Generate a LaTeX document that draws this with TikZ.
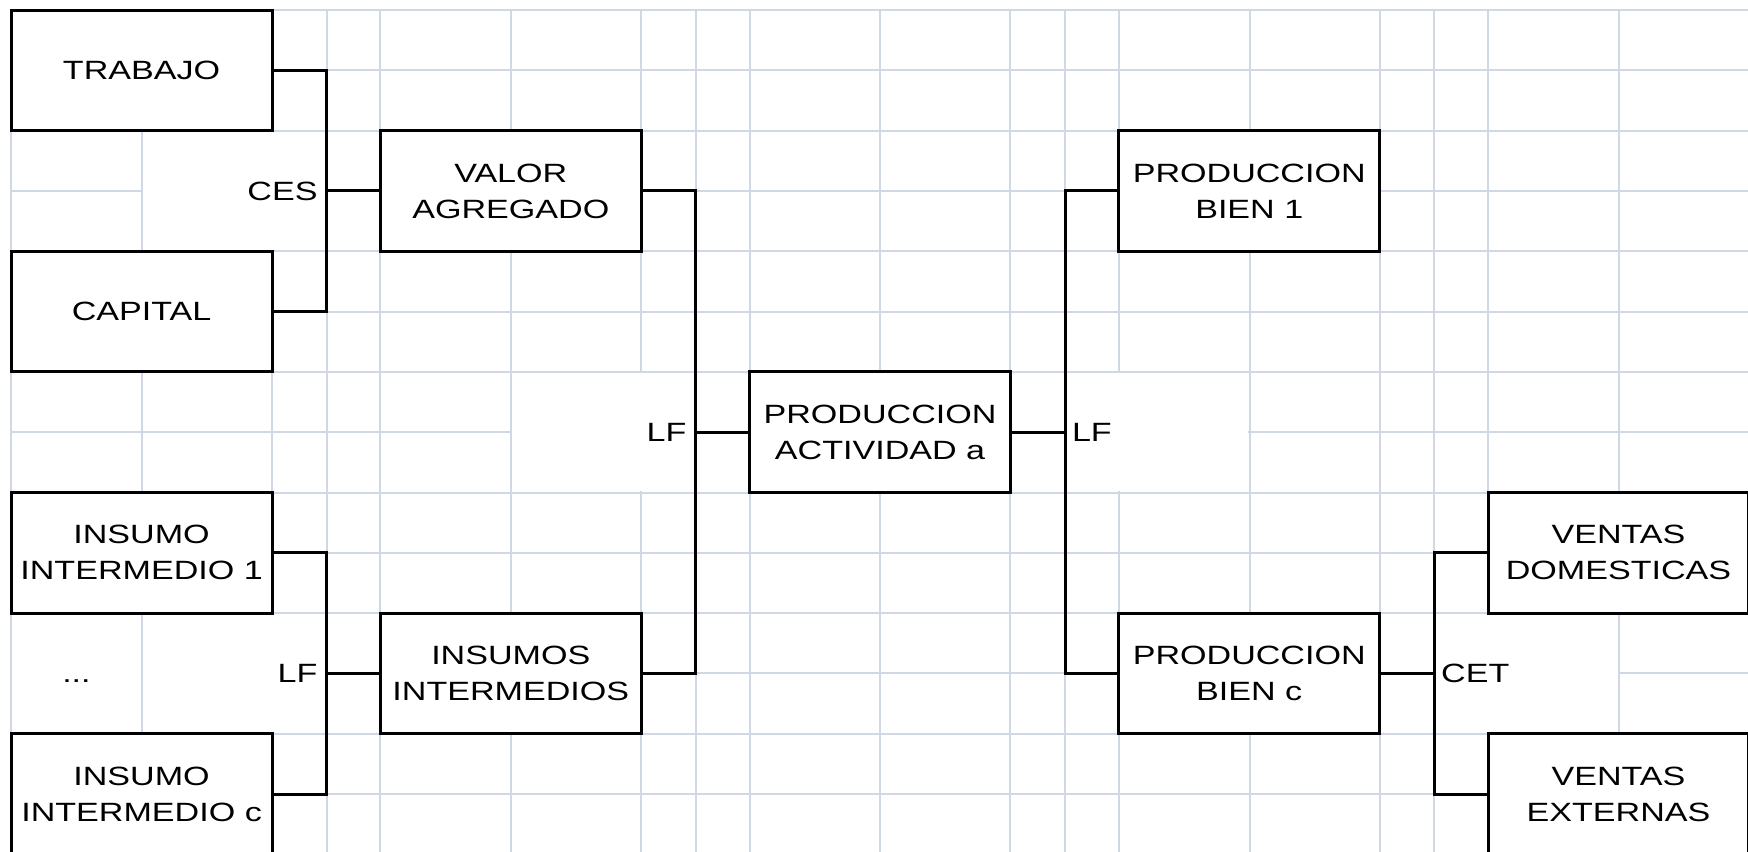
\documentclass[tikz,border=0pt]{standalone}
\usepackage{fontspec}
\setmainfont{Liberation Sans}[FakeStretch=1.29]
\definecolor{gridc}{HTML}{D0D7E5}
\begin{document}
\begin{tikzpicture}[x=1pt, y=-1pt,
  font=\fontsize{23.7}{32.3}\selectfont,
  gridline/.style={draw=gridc, line width=1.8pt},
  box/.style={draw, line width=2.7pt, fill=white, minimum width=234pt,
    minimum height=108.2pt, inner sep=0pt, align=center},
  link/.style={line width=2.7pt},
  lbl/.style={inner sep=0pt}]
\useasboundingbox (0,0) rectangle (1568,763.4);
\clip (0,0) rectangle (1568,763.4);

% worksheet gridlines
\foreach \x in {10,127.3,244,293,341.2,458.5,575.2,624.2,672.4,789.7,906.4,
                955.4,1003.6,1120.9,1237.6,1286.6,1334.8,1452.1,1568.8}
  \draw[gridline] (\x,9) -- (\x,775);
\foreach \y in {9,63.1,117.2,171.3,225.4,279.5,333.6,387.7,441.8,495.9,550,
                604.1,658.2,712.3,766.4}
  \draw[gridline] (10,\y) -- (1575,\y);

% merged label cells hide their inner gridlines
\fill[white] (128.3,118.2) rectangle (292,224.4);
\fill[white] (11,551) rectangle (126.3,657.2);
\fill[white] (128.3,551) rectangle (292,657.2);
\fill[white] (459.5,334.6) rectangle (623.2,440.8);
\fill[white] (956.4,334.6) rectangle (1119.9,440.8);
\fill[white] (1287.6,551) rectangle (1451.1,657.2);

% junction points of the brackets
\coordinate (jces) at (293,171.3);
\coordinate (jlfa) at (624.2,387.7);
\coordinate (jlfi) at (293,604.1);
\coordinate (jlfb) at (955.4,387.7);
\coordinate (jcet) at (1286.6,604.1);

% boxes
\node[box] (trabajo)   at (127,63.1)     {TRABAJO};
\node[box] (capital)   at (127,279.5)    {CAPITAL};
\node[box] (valor)     at (458.2,171.3)  {VALOR\\AGREGADO};
\node[box] (ins1)      at (127,495.9)    {INSUMO\\INTERMEDIO 1};
\node[box] (insc)      at (127,712.3)    {INSUMO\\INTERMEDIO c};
\node[box] (insumos)   at (458.2,604.1)  {INSUMOS\\INTERMEDIOS};
\node[box] (actividad) at (789.4,387.7)  {PRODUCCION\\ACTIVIDAD a};
\node[box] (bien1)     at (1120.6,171.3) {PRODUCCION\\BIEN 1};
\node[box] (bienc)     at (1120.6,604.1) {PRODUCCION\\BIEN c};
\node[box] (dom)       at (1451.8,495.9) {VENTAS\\DOMESTICAS};
\node[box] (ext)       at (1451.8,712.3) {VENTAS\\EXTERNAS};

% brackets
\draw[link] (trabajo.east) -| (jces) |- (capital.east);
\draw[link] (jces) -- (valor.west);
\draw[link] (valor.east) -| (jlfa) |- (insumos.east);
\draw[link] (jlfa) -- (actividad.west);
\draw[link] (ins1.east) -| (jlfi) |- (insc.east);
\draw[link] (jlfi) -- (insumos.west);
\draw[link] (actividad.east) -- (jlfb);
\draw[link] (bien1.west) -| (jlfb) |- (bienc.west);
\draw[link] (bienc.east) -- (jcet);
\draw[link] (dom.west) -| (jcet) |- (ext.west);

% function labels
\node[lbl, anchor=east] (ces)  at (285,171.3)    {CES};
\node[lbl, anchor=east] (lfa)  at (616,387.7)    {LF};
\node[lbl, anchor=east] (lfi)  at (285,604.1)    {LF};
\node[lbl, anchor=west] (lfb)  at (961.4,387.7)  {LF};
\node[lbl, anchor=west] (cet)  at (1292.6,604.1) {CET};
\node[lbl, text height=17pt, text depth=0pt] (dots) at (68.6,604.1) {...};
\end{tikzpicture}
\end{document}
